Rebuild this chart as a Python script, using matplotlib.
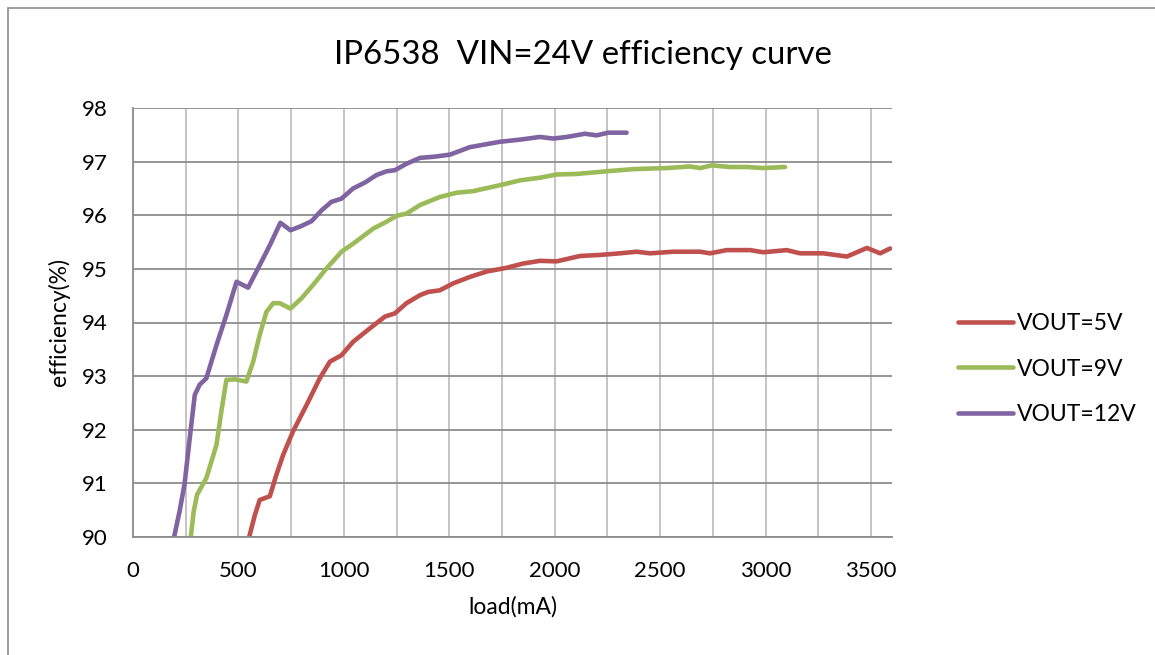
import matplotlib
matplotlib.use("Agg")
import matplotlib.pyplot as plt
from matplotlib.patches import Rectangle

plt.rcParams['font.family'] = ['Lato', 'DejaVu Sans']

title = "IP6538  VIN=24V efficiency curve"
x_label = "load(mA)"
y_label = "efficiency(%)"
x_ticks = [0, 500, 1000, 1500, 2000, 2500, 3000, 3500]
y_ticks = [90, 91, 92, 93, 94, 95, 96, 97, 98]

load_5v = [551, 578, 601, 649, 680, 712, 759, 823, 886, 934, 989, 1044, 1123, 1195, 1242,
           1297, 1361, 1400, 1455, 1519, 1598, 1677, 1772, 1851, 1930, 2009, 2120, 2215,
           2310, 2389, 2452, 2563, 2690, 2737, 2816, 2927, 2990, 3101, 3164, 3275, 3386,
           3481, 3544, 3591]
eff_5v = [90.0, 90.41, 90.69, 90.76, 91.16, 91.53, 91.97, 92.46, 92.96, 93.27, 93.39, 93.64,
          93.89, 94.11, 94.17, 94.36, 94.51, 94.57, 94.60, 94.73, 94.85, 94.95, 95.02, 95.10,
          95.15, 95.14, 95.24, 95.26, 95.29, 95.32, 95.29, 95.32, 95.32, 95.29, 95.35, 95.35,
          95.31, 95.35, 95.29, 95.29, 95.23, 95.39, 95.29, 95.38]

load_9v = [274, 288, 304, 348, 396, 419, 443, 483, 538, 570, 601, 633, 665, 696, 747, 799,
           854, 918, 989, 1044, 1139, 1203, 1250, 1297, 1361, 1455, 1535, 1614, 1740, 1835,
           1930, 2009, 2104, 2247, 2373, 2531, 2642, 2690, 2745, 2832, 2911, 2990, 3093]
eff_9v = [90.0, 90.48, 90.79, 91.10, 91.72, 92.34, 92.93, 92.94, 92.90, 93.27, 93.77, 94.20,
          94.36, 94.36, 94.26, 94.45, 94.70, 95.01, 95.32, 95.47, 95.75, 95.88, 95.99, 96.03,
          96.19, 96.34, 96.42, 96.45, 96.56, 96.65, 96.70, 96.76, 96.77, 96.82, 96.86, 96.88,
          96.91, 96.88, 96.93, 96.90, 96.90, 96.88, 96.90]

load_12v = [195, 221, 245, 269, 293, 316, 348, 396, 443, 491, 546, 601, 649, 699, 747, 799,
            847, 894, 941, 989, 1044, 1100, 1155, 1203, 1242, 1297, 1361, 1424, 1503, 1598,
            1740, 1835, 1930, 1993, 2057, 2144, 2199, 2254, 2341]
eff_12v = [90.0, 90.48, 91.0, 91.84, 92.65, 92.84, 92.96, 93.58, 94.14, 94.76, 94.65, 95.07,
           95.44, 95.86, 95.72, 95.80, 95.89, 96.09, 96.25, 96.31, 96.50, 96.61, 96.75, 96.82,
           96.84, 96.96, 97.07, 97.09, 97.13, 97.27, 97.37, 97.41, 97.46, 97.43, 97.46, 97.52,
           97.49, 97.54, 97.54]

series = [
    ("VOUT=5V", load_5v, eff_5v, "#c0504d"),
    ("VOUT=9V", load_9v, eff_9v, "#9bbb59"),
    ("VOUT=12V", load_12v, eff_12v, "#8064a2"),
]

W, H = 1155, 655
fig = plt.figure(figsize=(W / 100, H / 100), dpi=100)
ax = fig.add_axes([133 / W, 1 - 537 / H, (892 - 133) / W, (537 - 108) / H])

# chart-area border
fig.patches.append(Rectangle((8 / W, -0.1), 1.2, 1 - 8 / H + 0.1, transform=fig.transFigure,
                             fill=False, edgecolor="#8c8c8c", linewidth=1.2))

for label, xs, ys, c in series:
    ax.plot(xs, ys, color=c, linewidth=3.3, label=label,
            solid_joinstyle="round", solid_capstyle="round", clip_on=True)

ax.set_xlim(0, 3600)
ax.set_ylim(90, 98)
grid_x = list(range(0, 3601, 250))
ax.set_xticks(grid_x)
ax.set_xticklabels([str(v) if v in x_ticks else "" for v in grid_x])
ax.set_yticks(y_ticks)
ax.tick_params(length=0, labelsize=16)
ax.tick_params(axis="y", pad=18)
ax.tick_params(axis="x", pad=17)
ax.grid(axis="x", color="#bfbfbf", linewidth=1.3)
ax.grid(axis="y", color="#8c8c8c", linewidth=1.3)
ax.set_axisbelow(True)
for s in ["top", "right"]:
    ax.spines[s].set_visible(False)
for s in ["left", "bottom"]:
    ax.spines[s].set_color("#8c8c8c")
    ax.spines[s].set_linewidth(1.3)

ax.set_xlabel(x_label, fontsize=16.5, labelpad=11)
ax.set_ylabel(y_label, fontsize=16.5, labelpad=9)
fig.text(583 / W, 1 - 55 / H, title, fontsize=23.8, ha="center", va="center")

fig.legend(loc="center left", bbox_to_anchor=(937 / W, 1 - 369 / H), frameon=False,
           fontsize=16.5, handlelength=2.4, labelspacing=1.05, handletextpad=0.2)

fig.savefig("out.png", dpi=100)
